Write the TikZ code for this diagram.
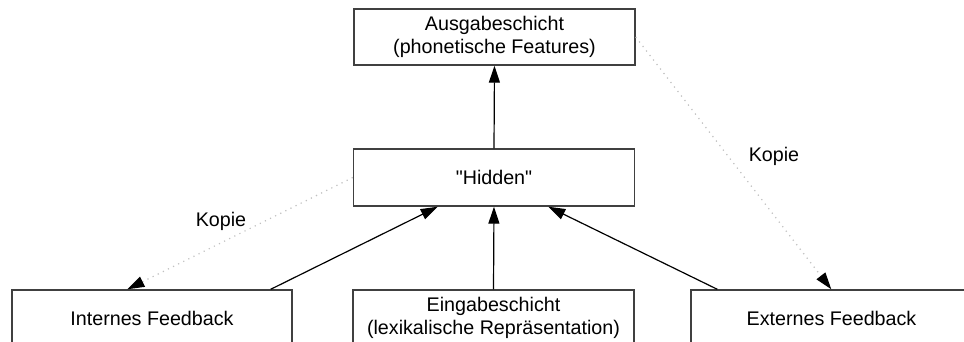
\documentclass[tikz,border=0pt]{standalone}
\usepackage{fontspec}
\setmainfont{Liberation Sans}[Ligatures=TeXOff]
\usetikzlibrary{arrows.meta}
\definecolor{boxline}{HTML}{404040}
\definecolor{dotgray}{HTML}{C0C0C0}
\begin{document}
\begin{tikzpicture}[x=1pt,y=-1pt,
  layer/.style={draw=boxline, line width=1.4pt, fill=white, minimum width=281pt, minimum height=56pt,
    inner sep=0pt, align=center, font=\fontsize{19.7}{23}\selectfont},
  conn/.style={line width=1.2pt, -{Triangle[length=17pt,width=11pt]}},
  kopie/.style={draw=dotgray, line width=1.2pt, dash pattern=on 1.2pt off 4.5pt,
    -{Triangle[length=17pt,width=11pt,color=black,fill=black]}},
  lbl/.style={font=\fontsize{19.7}{23}\selectfont, inner sep=0pt}]
\useasboundingbox (0,0) rectangle (964,342);
\clip (0,0) rectangle (964,342);
\node[layer] (top) at (494.5,37) {Ausgabeschicht\\(phonetische Features)};
\node[layer, minimum height=57pt] (hidden) at (494,177.5) {"Hidden"};
\node[layer, minimum width=280pt] (internes) at (152,318) {Internes Feedback};
\node[layer] (eingabe) at (493.5,318) {Eingabeschicht\\(lexikalische Repräsentation)};
\node[layer] (externes) at (831.5,318) {Externes Feedback};
\draw[conn] (hidden.north) -- (top.south);
\draw[conn] ([xshift=-22pt]internes.north east) -- ([xshift=85pt]hidden.south west);
\draw[conn] (eingabe.north) -- (hidden.south);
\draw[conn] ([xshift=27pt]externes.north west) -- ([xshift=-87pt]hidden.south east);
\draw[kopie] (hidden.west) -- ([xshift=116pt]internes.north west);
\draw[kopie] (top.east) -- ([xshift=141pt]externes.north west);
\node[lbl] (k1) at (221,221) {Kopie};
\node[lbl] (k2) at (774,156) {Kopie};
\end{tikzpicture}
\end{document}
